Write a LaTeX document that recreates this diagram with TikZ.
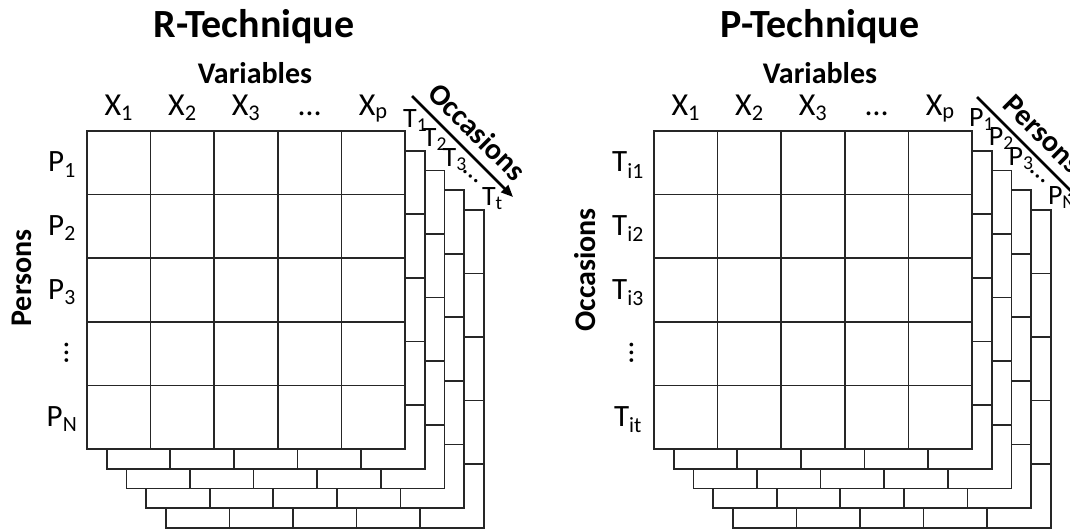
\documentclass[tikz,border=0pt]{standalone}
\usepackage{fontspec}
\setmainfont{Carlito}
\usetikzlibrary{arrows.meta,positioning}

\begin{document}
\begin{tikzpicture}[x=1pt, y=-1pt,
    layer/.style={draw=black!85, line width=1.7pt, fill=white},
    title/.style={font=\fontsize{40}{46}\selectfont\bfseries},
    axis/.style={font=\fontsize{30}{36}\selectfont\bfseries},
    varlabel/.style={font=\fontsize{32}{38}\selectfont, anchor=base},
    rowlabel/.style={font=\fontsize{31}{36}\selectfont, anchor=base},
    slicelabel/.style={font=\fontsize{28}{34}\selectfont, anchor=base west, inner sep=0pt},
    arrow/.style={-{Triangle[length=12pt, width=10pt]}, line width=2.5pt},
]
\useasboundingbox (0,0) rectangle (1070,528);
\clip (0,0) rectangle (1070,528);

% stacked data boxes, back layer first
\foreach \ox in {87,654} {
  \foreach \k in {4,3,2,1,0} {
    \filldraw[layer] (\ox+19.7*\k, 131+19.7*\k) rectangle ++(318,318);
    \foreach \i in {1,...,4} {
      \draw[layer] (\ox+19.7*\k+63.6*\i, 131+19.7*\k) -- ++(0,318);
      \draw[layer] (\ox+19.7*\k, 131+19.7*\k+63.6*\i) -- ++(318,0);
    }
  }
}

% R-technique
\node[title] (rtitle) at (254,27) {R-Technique};
\node[axis] (rvars) at (255,73) {Variables};
\foreach \lab [count=\i] in {X\textsubscript{1}, X\textsubscript{2}, X\textsubscript{3}, …, X\textsubscript{p}}
  \node[varlabel] (rx\i) at (87+63.6*\i-31.8, 115) {\lab};
\foreach \i/\lab in {1/P\textsubscript{1}, 2/P\textsubscript{2}, 3/P\textsubscript{3}, 5/P\textsubscript{N}}
  \node[rowlabel] (rp\i) at (62, 131+63.6*\i-31.8+9) {\lab};
\node[rowlabel, rotate=90, anchor=center] (rp4) at (67,353) {…};
\node[axis, rotate=90] (rpersons) at (22,278) {Persons};
\foreach \k/\lab in {0/T\textsubscript{1}, 1/T\textsubscript{2}, 2/T\textsubscript{3}, 4/T\textsubscript{t}}
  \node[slicelabel] (rt\k) at (405+19.7*\k-2, 131+19.7*\k-4) {\lab};
\node[slicelabel, rotate=-40, anchor=center] (rtdots) at (471,177) {…};
\coordinate (rstart) at (412,96);
\coordinate (rend) at (513,197);
\draw[arrow] (rstart) -- (rend) node[axis, midway, sloped, above=6pt] (roccasions) {Occasions};

% P-technique
\node[title] (ptitle) at (820,27) {P-Technique};
\node[axis] (pvars) at (820,73) {Variables};
\foreach \lab [count=\i] in {X\textsubscript{1}, X\textsubscript{2}, X\textsubscript{3}, …, X\textsubscript{p}}
  \node[varlabel] (px\i) at (654+63.6*\i-31.8, 115) {\lab};
\foreach \i/\lab in {1/T\textsubscript{i1}, 2/T\textsubscript{i2}, 3/T\textsubscript{i3}, 5/T\textsubscript{it}}
  \node[rowlabel] (pt\i) at (628, 131+63.6*\i-31.8+9) {\lab};
\node[rowlabel, rotate=90, anchor=center] (pt4) at (632,353) {…};
\node[axis, rotate=90] (poccasions) at (585,270) {Occasions};
\foreach \k/\lab in {0/P\textsubscript{1}, 1/P\textsubscript{2}, 2/P\textsubscript{3}, 4/P\textsubscript{N}}
  \node[slicelabel] (pp\k) at (972+19.7*\k-3, 131+19.7*\k-5) {\lab};
\node[slicelabel, rotate=-40, anchor=center] (ppdots) at (1038,177) {…};
\coordinate (pstart) at (977,97);
\coordinate (pend) at (1080,200);
\draw[arrow] (pstart) -- (pend) node[axis, midway, sloped, above=6pt] (ppersons) {Persons};
\end{tikzpicture}
\end{document}
